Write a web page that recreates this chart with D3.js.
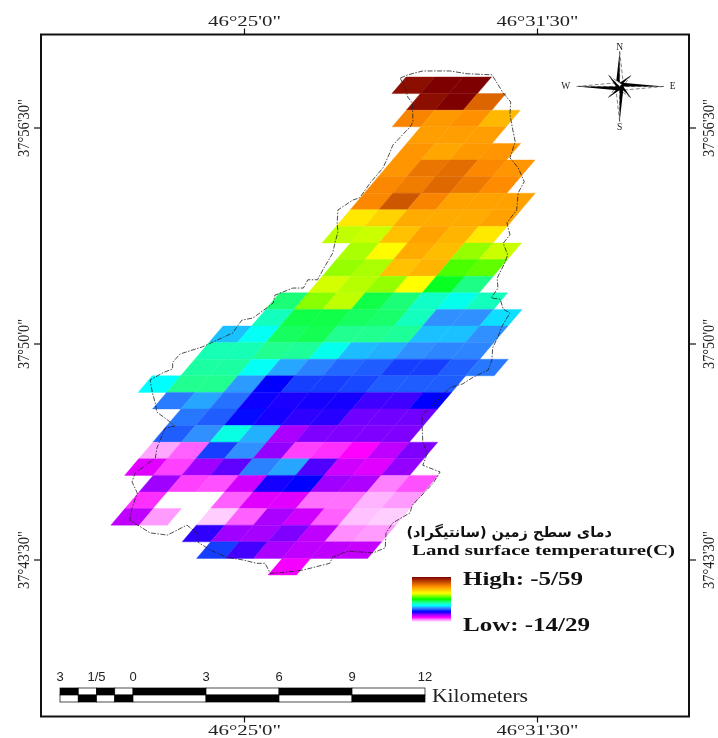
<!DOCTYPE html>
<html>
<head>
<meta charset="utf-8">
<script src="https://d3js.org/d3.v7.min.js"></script>
<style>
  html, body { margin: 0; padding: 0; background: #fff; }
  svg { display: block; filter: blur(0.45px); }
</style>
</head>
<body>
<div id="map"></div>
<script>
// land surface temperature per raster cell (C), one list per row from north to south
const rowFirstCol = [0, 1, 1, 2, 2, 2, 2, 2, 2, 2, 3, 3, 3, 2, 2, 1, 1, 1, 0, 1, 2, 2, 2, 2, 3, 3, 3, 6, 7, 10];
const rowTemps = [
  [-5.77, -5.59, -5.59],
  [-5.77, -5.59, -6.9],
  [-7.3, -7.55, -7.45, -7.9],
  [-7.6, -7.6, -7.6],
  [-7.5, -7.7, -7.55, -7.5],
  [-7.5, -7.1, -7.0, -7.35, -7.5],
  [-7.35, -7.2, -6.95, -7.15, -7.4],
  [-7.35, -6.7, -7.3, -7.65, -7.65, -7.65],
  [-8.45, -8.2, -7.75, -7.75, -7.75, -7.65],
  [-9.0, -8.95, -8.0, -7.65, -7.85, -8.45],
  [-9.1, -8.65, -7.75, -7.95, -9.2, -8.95],
  [-9.2, -9.1, -8.0, -7.85, -9.55, -9.45],
  [-8.9, -9.05, -9.2, -8.7, -10.05, -10.45],
  [-10.4, -9.25, -9.0, -10.2, -10.4, -10.8, -11.0, -10.75],
  [-10.75, -10.2, -10.2, -10.3, -10.35, -10.75, -11.6, -11.6, -11.25],
  [-11.38, -11.05, -10.3, -10.25, -10.5, -10.5, -10.55, -11.38, -11.38, -11.6],
  [-10.7, -10.7, -10.5, -10.55, -11.0, -11.4, -11.45, -11.6, -11.65, -11.65],
  [-10.6, -10.6, -11.05, -11.5, -11.67, -11.8, -11.85, -12.0, -12.0, -11.85, -11.72],
  [-11.1, -10.5, -10.5, -11.55, -12.3, -12.0, -12.0, -11.95, -11.85, -11.85, -11.85],
  [-11.7, -11.5, -11.75, -12.35, -12.4, -12.38, -12.38, -12.54, -12.54, -12.3],
  [-11.72, -11.85, -12.25, -12.38, -12.48, -12.45, -12.72, -12.72, -12.72],
  [-11.85, -11.6, -10.95, -11.45, -12.96, -12.78, -12.78, -12.78, -12.78],
  [-13.95, -13.7, -12.0, -11.6, -12.85, -13.6, -13.55, -13.4, -13.07, -12.78],
  [-13.24, -13.6, -12.9, -12.66, -11.67, -11.5, -12.6, -13.15, -13.24, -12.85],
  [-12.9, -13.6, -13.65, -13.15, -12.38, -12.3, -12.9, -12.97, -13.8, -13.65],
  [-13.55, -14.29, -14.29, -13.7, -13.24, -13.24, -13.75, -13.75, -14.0, -13.9],
  [-13.07, -13.9, -14.29, -14.1, -13.7, -12.96, -13.15, -13.7, -14.05, -14.1],
  [-12.48, -12.9, -12.93, -12.78, -13.07, -13.85, -13.9],
  [-12.0, -12.55, -12.96, -13.07, -13.07, -13.1],
  [-13.35]
];

const tempStops = [-14.29, -13.8, -13.4, -12.9, -12.3, -11.6, -11.1, -10.5, -9.9, -8.7, -7.4, -5.59];
const tempColors = ['#ffffff', '#ff80ff', '#ff00ff', '#a000ff', '#0000ff', '#3090ff', '#00ffff', '#20ff90', '#00ff00', '#ffff00', '#ff8c00', '#7f0000'];

// watershed boundary, arc seconds east of 46d25'0" and north of 37d50'0"
const boundaryLon = [208, 218, 238, 254, 274, 297, 330, 337, 345, 355, 354, 357, 361, 354, 365, 373, 365, 363, 350, 354, 345, 351, 347, 337, 338, 329, 341, 345, 354, 343, 338, 331, 330, 325, 305, 291, 274, 252, 237, 237, 238, 244, 238, 261, 252, 224, 221, 198, 189, 188, 172, 138, 118, 114, 79, 57, 35, 28, 17, -1, -23, -45, -61, -63, -76, -102, -125, -152, -149, -142, -149, -145, -118, -116, -105, -92, -102, -116, -118, -122, -125, -108, -95, -95, -85, -55, -15, -3, 12, 17, 39, 41, 65, 79, 85, 98, 105, 118, 121, 125, 124, 125, 145, 154, 168, 185, 194, 198, 221, 225, 224, 218, 214];
const boundaryLat = [480, 486, 493, 493, 493, 488, 486, 471, 453, 437, 414, 392, 365, 336, 318, 293, 273, 242, 219, 197, 182, 161, 146, 119, 101, 83, 81, 63, 56, 31, 13, -7, -29, -47, -60, -72, -79, -110, -128, -146, -177, -197, -219, -231, -251, -291, -305, -323, -341, -368, -377, -374, -385, -396, -408, -412, -414, -396, -396, -390, -385, -372, -358, -341, -327, -345, -341, -318, -296, -269, -249, -233, -206, -188, -152, -148, -137, -123, -107, -88, -65, -52, -45, -33, -18, -5, 20, 43, 47, 52, 74, 88, 101, 101, 116, 116, 134, 164, 182, 202, 219, 242, 260, 264, 291, 318, 345, 359, 392, 401, 435, 446, 464];

const lonTicks = [0, 390];
const lonLabels = ['46°25\'0"', '46°31\'30"'];
const latTicks = [390, 0, -390];
const latLabels = ['37°56\'30"', '37°50\'0"', '37°43\'30"'];

// scale bar
const barBreaks = [-3, -2.25, -1.5, -0.75, 0, 3, 6, 9, 12];
const barTicks = [-3, -1.5, 0, 3, 6, 9, 12];
const barLabels = ['3', '1/5', '0', '3', '6', '9', '12'];

// north arrow: one arm per bearing
const compassBearings = [0, 45, 90, 135, 180, 225, 270, 315];
const compassLengths = [35, 16, 44, 16, 35, 16, 43, 16];
const compassLetters = ['N', 'E', 'S', 'W'];

const width = 718;
const height = 738;
const frame = {left: 41, right: 689, top: 34.5, bottom: 716.5};

const svg = d3.select('#map')
  .append('svg')
    .attr('width', width)
    .attr('height', height)
    .style('background', '#fff');

const color = d3.scaleLinear().domain(tempStops).range(tempColors);

const lonScale = d3.scaleLinear().domain([0, 390]).range([244, 537]);
const latScale = d3.scaleLinear().domain([390, -390]).range([128, 560]);

// the raster is a sheared grid: columns lean left going south
const colScale = d3.scaleLinear().domain([0, 1]).range([0, 28.5]);
const rowScale = d3.scaleLinear().domain([0, 30]).range([77, 575]);
const originScale = d3.scaleLinear().domain([0, 30]).range([406, -17]);

function cellCorners(r, c) {
  const xAt = (row, col) => originScale(row) + colScale(col);
  return [
    [xAt(r, c), rowScale(r)],
    [xAt(r, c + 1), rowScale(r)],
    [xAt(r + 1, c + 1), rowScale(r + 1)],
    [xAt(r + 1, c), rowScale(r + 1)]
  ];
}

const cells = [];
rowTemps.forEach((temps, r) => {
  temps.forEach((t, i) => cells.push({r: r, c: rowFirstCol[r] + i, t: t}));
});

const cellLine = d3.line().curve(d3.curveLinearClosed);

svg.append('g')
  .selectAll('path')
  .data(cells)
  .enter()
  .append('path')
    .attr('d', d => cellLine(cellCorners(d.r, d.c)))
    .attr('fill', d => color(d.t))
    .attr('stroke', d => color(d.t))
    .attr('stroke-width', 0.4);

// boundary
const boundaryLine = d3.line()
  .x(i => lonScale(boundaryLon[i]))
  .y(i => latScale(boundaryLat[i]))
  .curve(d3.curveLinearClosed);

svg.append('path')
  .attr('d', boundaryLine(d3.range(boundaryLon.length)))
  .attr('fill', 'none')
  .attr('stroke', '#222')
  .attr('stroke-width', 0.8)
  .attr('stroke-dasharray', '5,1.5,1.5,1.5');

// frame and graticule labels
svg.append('rect')
  .attr('x', frame.left)
  .attr('y', frame.top)
  .attr('width', frame.right - frame.left)
  .attr('height', frame.bottom - frame.top)
  .attr('fill', 'none')
  .attr('stroke', '#111')
  .attr('stroke-width', 2);

function styleAxis(g) {
  g.select('.domain').remove();
  g.selectAll('line').attr('stroke', '#111').attr('stroke-width', 1.2);
  g.selectAll('text')
    .attr('font-family', '"Liberation Serif", serif')
    .attr('fill', '#222');
}

function lonFormat(d) { return lonLabels[lonTicks.indexOf(d)]; }
function latFormat(d) { return latLabels[latTicks.indexOf(d)]; }

const lonLengths = [73, 82];
const topAxis = svg.append('g')
  .attr('transform', 'translate(0,' + frame.top + ')')
  .call(d3.axisTop(lonScale).tickValues(lonTicks).tickFormat(lonFormat).tickSize(6).tickPadding(3));
styleAxis(topAxis);

const bottomAxis = svg.append('g')
  .attr('transform', 'translate(0,' + frame.bottom + ')')
  .call(d3.axisBottom(lonScale).tickValues(lonTicks).tickFormat(lonFormat).tickSize(6).tickPadding(2));
styleAxis(bottomAxis);

[topAxis, bottomAxis].forEach(a => {
  a.selectAll('text')
    .attr('font-size', 15)
    .attr('textLength', (d, i) => lonLengths[i])
    .attr('lengthAdjust', 'spacingAndGlyphs');
});

const latLengths = [58, 50, 58];
const leftAxis = svg.append('g')
  .attr('transform', 'translate(' + frame.left + ',0)')
  .call(d3.axisLeft(latScale).tickValues(latTicks).tickFormat(latFormat).tickSize(7));
styleAxis(leftAxis);
leftAxis.selectAll('text')
  .attr('x', 0)
  .attr('y', -12)
  .attr('dy', 0);

const rightAxis = svg.append('g')
  .attr('transform', 'translate(' + frame.right + ',0)')
  .call(d3.axisRight(latScale).tickValues(latTicks).tickFormat(latFormat).tickSize(7));
styleAxis(rightAxis);
rightAxis.selectAll('text')
  .attr('x', 0)
  .attr('y', 25)
  .attr('dy', 0);

[leftAxis, rightAxis].forEach(a => {
  a.selectAll('.tick').each(function (d) {
    d3.select(this).attr('transform', 'translate(0,0)');
    d3.select(this).select('line')
      .attr('y1', latScale(d))
      .attr('y2', latScale(d));
    d3.select(this).select('text')
      .attr('transform', 'translate(0,' + latScale(d) + ') rotate(-90)');
  });
  a.selectAll('text')
    .attr('text-anchor', 'middle')
    .attr('font-size', 17)
    .attr('textLength', (d, i) => latLengths[i])
    .attr('lengthAdjust', 'spacingAndGlyphs');
});

// legend
const defs = svg.append('defs');
const ramp = defs.append('linearGradient')
  .attr('id', 'ramp')
  .attr('x1', 0).attr('y1', 1)
  .attr('x2', 0).attr('y2', 0);
tempStops.forEach((t, i) => {
  ramp.append('stop')
    .attr('offset', (t - tempStops[0]) / (tempStops[tempStops.length - 1] - tempStops[0]))
    .attr('stop-color', tempColors[i]);
});

svg.append('rect')
  .attr('x', 412)
  .attr('y', 577)
  .attr('width', 39)
  .attr('height', 45)
  .attr('fill', 'url(#ramp)');

function legendText(x, y, size, length, label) {
  svg.append('text')
    .attr('x', x)
    .attr('y', y)
    .attr('font-family', '"Liberation Serif", serif')
    .attr('font-weight', 'bold')
    .attr('font-size', size)
    .attr('fill', '#111')
    .attr('textLength', length)
    .attr('lengthAdjust', 'spacingAndGlyphs')
    .text(label);
}

svg.append('text')
  .attr('x', 612)
  .attr('y', 537)
  .attr('direction', 'rtl')
  .attr('font-family', '"DejaVu Sans", sans-serif')
  .attr('font-weight', 'bold')
  .attr('font-size', 14.5)
  .attr('fill', '#111')
  .text('دمای سطح زمین (سانتیگراد)');
legendText(412, 555, 15.5, 263, 'Land surface temperature(C)');
legendText(463, 585, 19, 120, 'High: -5/59');
legendText(463, 631, 19, 127, 'Low: -14/29');

// scale bar
const kmScale = d3.scaleLinear().domain([0, 12]).range([133, 425]);
const barY = d3.scaleBand().domain([0, 1]).range([688, 702]);
const barG = svg.append('g');

d3.pairs(barBreaks).forEach((pair, i) => {
  [0, 1].forEach(row => {
    barG.append('rect')
      .attr('x', kmScale(pair[0]))
      .attr('y', barY(row))
      .attr('width', kmScale(pair[1]) - kmScale(pair[0]))
      .attr('height', barY.bandwidth())
      .attr('fill', (i + row) % 2 == 0 ? '#000' : '#fff')
      .attr('stroke', '#000')
      .attr('stroke-width', 0.7);
  });
});

svg.append('g')
  .selectAll('text')
  .data(barTicks)
  .enter()
  .append('text')
    .attr('x', d => kmScale(d))
    .attr('y', 681)
    .attr('text-anchor', 'middle')
    .attr('font-family', '"Liberation Sans", sans-serif')
    .attr('font-size', 13)
    .attr('fill', '#222')
    .text((d, i) => barLabels[i]);

svg.append('text')
  .attr('x', 432)
  .attr('y', 702)
  .attr('font-family', '"Liberation Serif", serif')
  .attr('font-size', 18)
  .attr('fill', '#222')
  .attr('textLength', 96)
  .attr('lengthAdjust', 'spacingAndGlyphs')
  .text('Kilometers');

// north arrow
const compass = svg.append('g')
  .attr('transform', 'translate(' + lonScale(500) + ',' + latScale(465) + ')');
const armRadial = d3.lineRadial().curve(d3.curveLinearClosed);
const toRad = d => d * Math.PI / 180;

compassBearings.forEach((b, i) => {
  const len = compassLengths[i];
  const spread = i % 2 == 0 ? 4 : 3;
  const halfAngle = Math.PI / 2;
  // open dashed half first so the dark half stays on top
  compass.append('path')
    .attr('d', armRadial([[toRad(b), len], [toRad(b) + halfAngle, spread], [0, 0]]))
    .attr('fill', '#fff')
    .attr('stroke', '#333')
    .attr('stroke-width', 0.6)
    .attr('stroke-dasharray', '4,2');
  compass.append('path')
    .attr('d', armRadial([[toRad(b), len], [toRad(b) - halfAngle, spread], [0, 0]]))
    .attr('fill', '#000');
});

compass.selectAll('text')
  .data(compassLetters)
  .enter()
  .append('text')
    .attr('x', (d, i) => [0, 53, 0, -54][i])
    .attr('y', (d, i) => [-36, 3, 44, 3][i])
    .attr('text-anchor', 'middle')
    .attr('font-family', '"Liberation Serif", serif')
    .attr('font-size', 9.5)
    .attr('fill', '#222')
    .text(d => d);
</script>
</body>
</html>
